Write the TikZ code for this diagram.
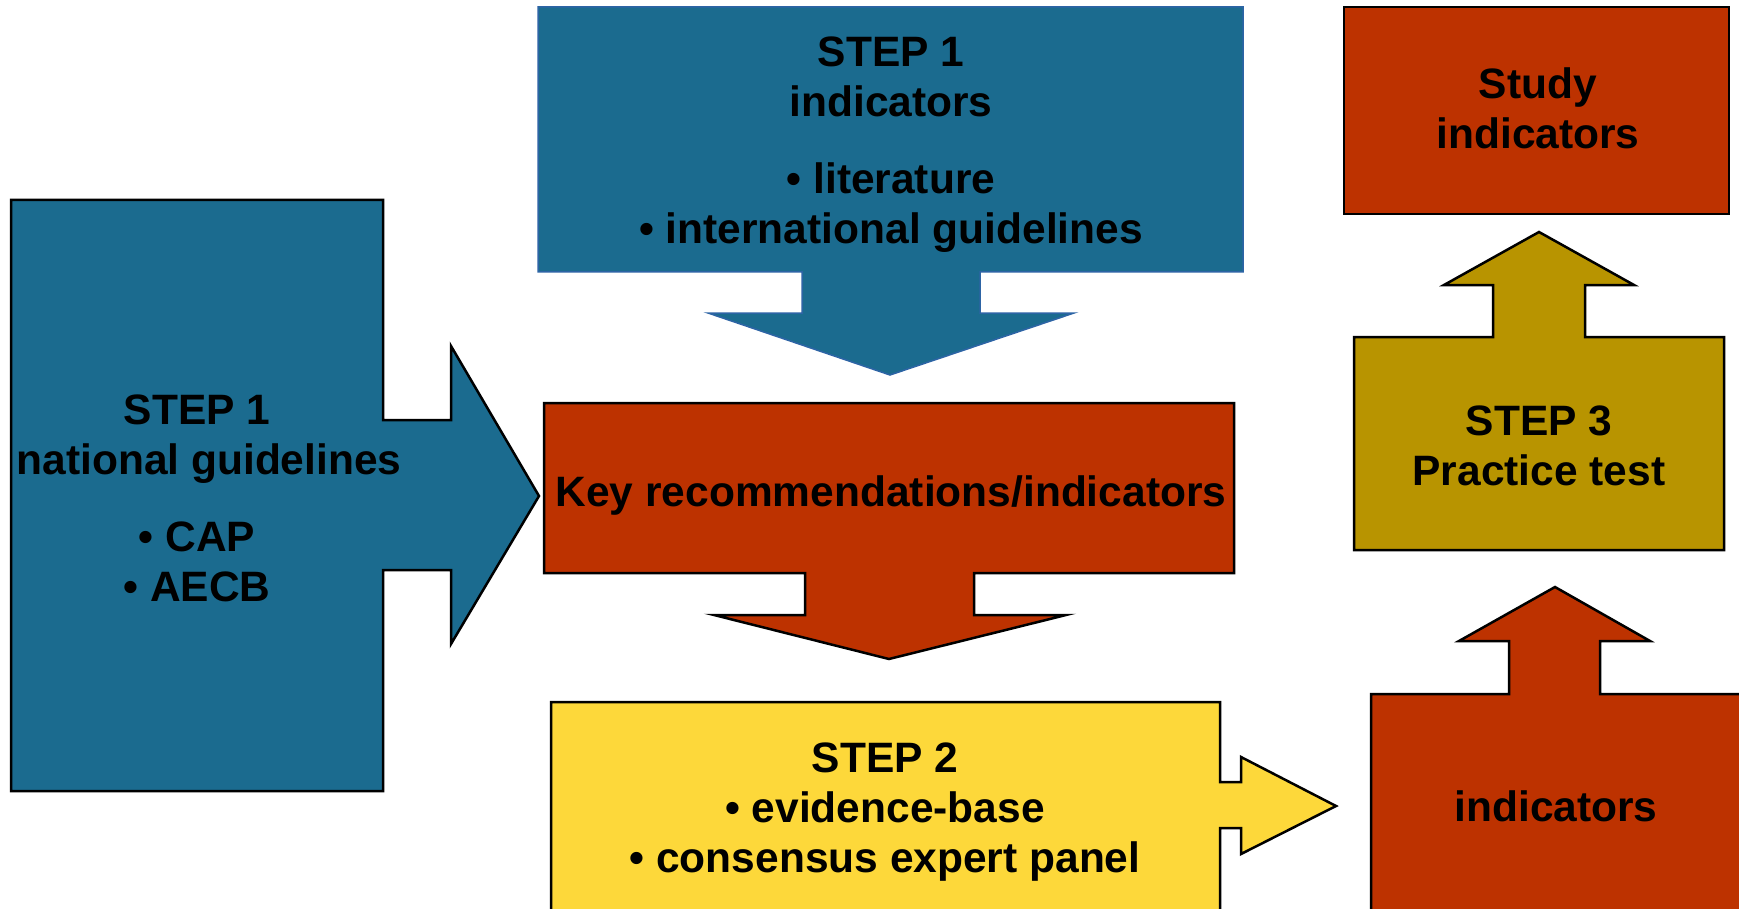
\documentclass[tikz,border=0pt]{standalone}
\usepackage{fontspec}
\setmainfont{Liberation Sans}

\definecolor{stepblue}{RGB}{27,107,143}
\definecolor{stepedge}{RGB}{45,100,165}
\definecolor{stepred}{RGB}{189,50,0}
\definecolor{stepyellow}{RGB}{253,216,58}
\definecolor{stepolive}{RGB}{184,148,0}

\tikzset{
  stepshape/.style={draw=black, line width=2.5pt, line join=miter},
  steptext/.style={font=\bfseries\fontsize{42.5}{50}\selectfont,
                   align=center, inner sep=0pt, text=black},
}

\begin{document}
\begin{tikzpicture}[x=1pt,y=-1pt]
   \useasboundingbox (0,0) rectangle (1739,909);

   % national guidelines, arrow to the right
   \draw[stepshape, fill=stepblue]
      (11,200) -- (383,200) -- (383,420) -- (451,420) -- (451,346)
      -- (539,496) -- (451,644) -- (451,570) -- (383,570) -- (383,791)
      -- (11,791) -- cycle;
   \node[steptext] (natl) at (197,498)
      {STEP 1\\\hspace*{24pt}national guidelines\\[27pt]• CAP\\• AECB};

   % international indicators, arrow down
   \draw[fill=stepblue, draw=stepedge, line width=1.5pt]
      (538,7) -- (1243,7) -- (1243,272) -- (980,272) -- (980,313)
      -- (1074,313) -- (890,375) -- (708,313) -- (802,313) -- (802,272)
      -- (538,272) -- cycle;
   \node[steptext] (intl) at (891,145)
      {STEP 1\\indicators\\[27pt]• literature\\• international guidelines};

   % key recommendations, arrow down
   \draw[stepshape, fill=stepred]
      (544,403) -- (1234,403) -- (1234,573) -- (974,573) -- (974,615)
      -- (1066,615) -- (889,659) -- (714,615) -- (805,615) -- (805,573)
      -- (544,573) -- cycle;
   \node[steptext] (keyrec) at (891,496) {Key recommendations/indicators};

   % step 2, arrow to the right
   \draw[stepshape, fill=stepyellow]
      (551,702) -- (1220,702) -- (1220,782) -- (1241,782) -- (1241,757)
      -- (1336,806) -- (1241,854) -- (1241,828) -- (1220,828) -- (1220,920)
      -- (551,920) -- cycle;
   \node[steptext] (step2) at (885,812)
      {STEP 2\\• evidence-base\\• consensus expert panel};

   % indicators, arrow up
   \draw[stepshape, fill=stepred]
      (1371,920) -- (1371,694) -- (1509,694) -- (1509,641) -- (1459,641)
      -- (1555,587) -- (1650,641) -- (1600,641) -- (1600,694) -- (1750,694)
      -- (1750,920) -- cycle;
   \node[steptext] (ind) at (1556,806) {indicators};

   % step 3, arrow up
   \draw[stepshape, fill=stepolive]
      (1354,337) -- (1493,337) -- (1493,285) -- (1444,285) -- (1539,232)
      -- (1634,285) -- (1585,285) -- (1585,337) -- (1724,337) -- (1724,550)
      -- (1354,550) -- cycle;
   \node[steptext] (step3) at (1539,446) {STEP 3\\Practice test};

   % study indicators
   \draw[stepshape, fill=stepred] (1344,7) rectangle (1729,214);
   \node[steptext] (study) at (1538,108) {Study\\indicators};
\end{tikzpicture}
\end{document}
